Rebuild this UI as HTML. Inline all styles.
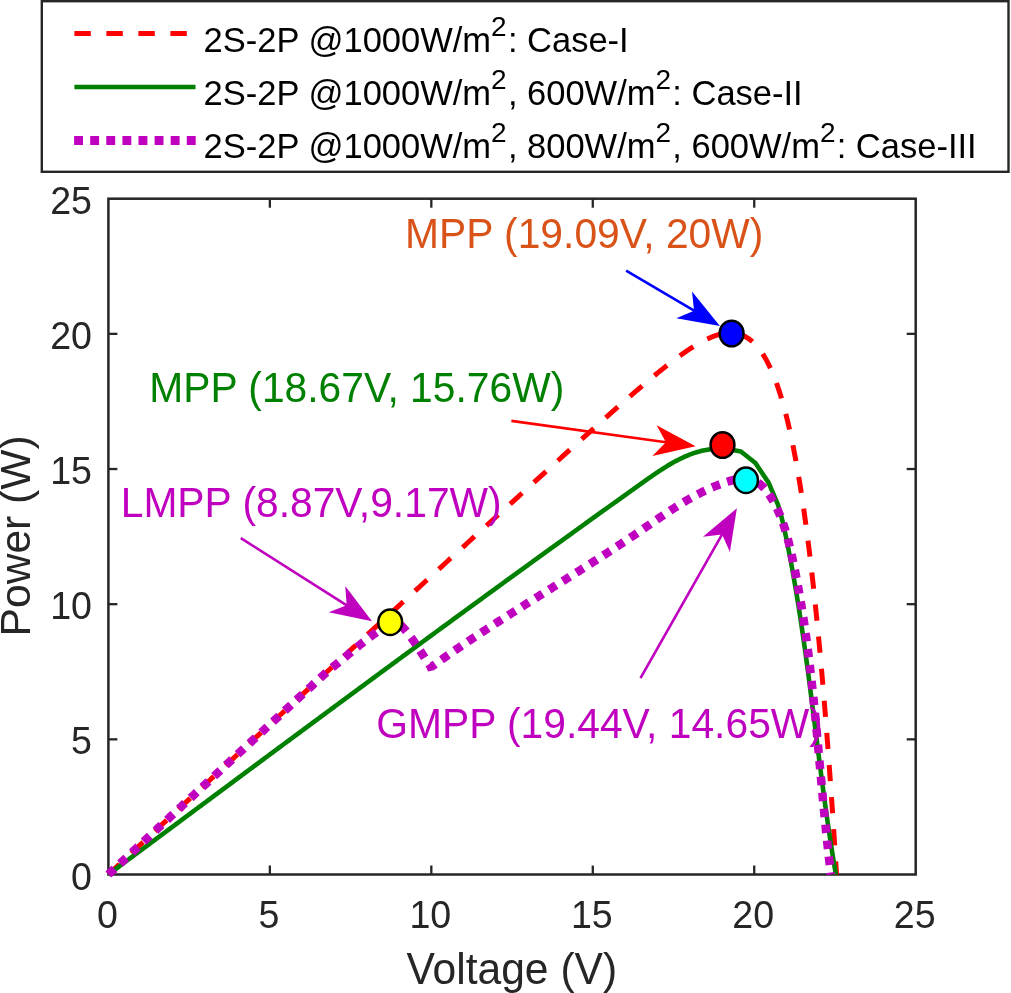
<!DOCTYPE html>
<html><head><meta charset="utf-8"><style>
html,body{margin:0;padding:0;background:#fff;width:1011px;height:993px;overflow:hidden}
svg{display:block;will-change:transform}
text{font-family:"Liberation Sans",sans-serif;white-space:pre}
</style></head><body>
<svg width="1011" height="993" viewBox="0 0 1011 993">
<rect width="1011" height="993" fill="#fff"/>
<rect x="108.4" y="198.7" width="807.30" height="675.80" fill="#fff" stroke="#262626" stroke-width="2.5"/>
<line x1="269.86" y1="874.5" x2="269.86" y2="865.5" stroke="#262626" stroke-width="2.3"/>
<line x1="269.86" y1="198.7" x2="269.86" y2="207.7" stroke="#262626" stroke-width="2.3"/>
<line x1="108.4" y1="739.34" x2="117.4" y2="739.34" stroke="#262626" stroke-width="2.3"/>
<line x1="915.7" y1="739.34" x2="906.7" y2="739.34" stroke="#262626" stroke-width="2.3"/>
<line x1="431.32" y1="874.5" x2="431.32" y2="865.5" stroke="#262626" stroke-width="2.3"/>
<line x1="431.32" y1="198.7" x2="431.32" y2="207.7" stroke="#262626" stroke-width="2.3"/>
<line x1="108.4" y1="604.18" x2="117.4" y2="604.18" stroke="#262626" stroke-width="2.3"/>
<line x1="915.7" y1="604.18" x2="906.7" y2="604.18" stroke="#262626" stroke-width="2.3"/>
<line x1="592.78" y1="874.5" x2="592.78" y2="865.5" stroke="#262626" stroke-width="2.3"/>
<line x1="592.78" y1="198.7" x2="592.78" y2="207.7" stroke="#262626" stroke-width="2.3"/>
<line x1="108.4" y1="469.02" x2="117.4" y2="469.02" stroke="#262626" stroke-width="2.3"/>
<line x1="915.7" y1="469.02" x2="906.7" y2="469.02" stroke="#262626" stroke-width="2.3"/>
<line x1="754.24" y1="874.5" x2="754.24" y2="865.5" stroke="#262626" stroke-width="2.3"/>
<line x1="754.24" y1="198.7" x2="754.24" y2="207.7" stroke="#262626" stroke-width="2.3"/>
<line x1="108.4" y1="333.86" x2="117.4" y2="333.86" stroke="#262626" stroke-width="2.3"/>
<line x1="915.7" y1="333.86" x2="906.7" y2="333.86" stroke="#262626" stroke-width="2.3"/>
<text transform="translate(107.40 928.00) scale(1 1.055)" font-size="37.6" fill="#262626" text-anchor="middle">0</text>
<text transform="translate(92.00 889.50) scale(1 1.055)" font-size="37.6" fill="#262626" text-anchor="end">0</text>
<text transform="translate(268.86 928.00) scale(1 1.055)" font-size="37.6" fill="#262626" text-anchor="middle">5</text>
<text transform="translate(92.00 754.34) scale(1 1.055)" font-size="37.6" fill="#262626" text-anchor="end">5</text>
<text transform="translate(430.32 928.00) scale(1 1.055)" font-size="37.6" fill="#262626" text-anchor="middle">10</text>
<text transform="translate(92.00 619.18) scale(1 1.055)" font-size="37.6" fill="#262626" text-anchor="end">10</text>
<text transform="translate(591.78 928.00) scale(1 1.055)" font-size="37.6" fill="#262626" text-anchor="middle">15</text>
<text transform="translate(92.00 484.02) scale(1 1.055)" font-size="37.6" fill="#262626" text-anchor="end">15</text>
<text transform="translate(753.24 928.00) scale(1 1.055)" font-size="37.6" fill="#262626" text-anchor="middle">20</text>
<text transform="translate(92.00 348.86) scale(1 1.055)" font-size="37.6" fill="#262626" text-anchor="end">20</text>
<text transform="translate(914.70 928.00) scale(1 1.055)" font-size="37.6" fill="#262626" text-anchor="middle">25</text>
<text transform="translate(92.00 213.70) scale(1 1.055)" font-size="37.6" fill="#262626" text-anchor="end">25</text>
<text transform="translate(511.80 984.00) scale(1 1.035)" font-size="42.6" fill="#262626" text-anchor="middle">Voltage (V)</text>
<text transform="translate(30.3 535.9) rotate(-90)" x="0" y="0" font-size="42.6" fill="#262626" text-anchor="middle">Power (W)</text>
<path d="M108.40 874.50 L109.50 873.48 L110.59 872.45 L111.69 871.43 L112.79 870.41 L113.88 869.38 L114.98 868.36 L116.08 867.34 L117.17 866.31 L118.27 865.29 L119.37 864.27 L120.46 863.24 L121.56 862.22 L122.66 861.20 L123.75 860.17 L124.85 859.15 L125.95 858.13 L127.05 857.11 L128.14 856.08 L129.24 855.06 L130.34 854.04 L131.43 853.01 L132.53 851.99 L133.63 850.97 L134.73 849.95 L135.82 848.92 L136.92 847.90 L138.02 846.88 L139.12 845.86 L140.21 844.83 L141.31 843.81 L142.41 842.79 L143.51 841.77 L144.60 840.74 L145.70 839.72 L146.80 838.70 L147.90 837.68 L148.99 836.65 L150.09 835.63 L151.19 834.61 L152.29 833.59 L153.39 832.57 L154.48 831.54 L155.58 830.52 L156.68 829.50 L157.78 828.48 L158.88 827.46 L159.97 826.43 L161.07 825.41 L162.17 824.39 L163.27 823.37 L164.37 822.35 L165.46 821.32 L166.56 820.30 L167.66 819.28 L168.76 818.26 L169.86 817.24 L170.96 816.22 L172.06 815.20 L173.15 814.17 L174.25 813.15 L175.35 812.13 L176.45 811.11 L177.55 810.09 L178.65 809.07 L179.75 808.05 L180.84 807.03 L181.94 806.00 L183.04 804.98 L184.14 803.96 L185.24 802.94 L186.34 801.92 L187.44 800.90 L188.54 799.88 L189.63 798.86 L190.73 797.84 L191.83 796.82 L192.93 795.79 L194.03 794.77 L195.13 793.75 L196.23 792.73 L197.33 791.71 L198.43 790.69 L199.53 789.67 L200.63 788.65 L201.73 787.63 L202.83 786.61 L203.92 785.59 L205.02 784.57 L206.12 783.55 L207.22 782.53 L208.32 781.51 L209.42 780.49 L210.52 779.47 L211.62 778.45 L212.72 777.43 L213.82 776.41 L214.92 775.39 L216.02 774.37 L217.12 773.35 L218.22 772.33 L219.32 771.31 L220.42 770.29 L221.52 769.27 L222.62 768.25 L223.72 767.23 L224.82 766.21 L225.92 765.19 L227.02 764.17 L228.12 763.15 L229.22 762.13 L230.32 761.11 L231.42 760.09 L232.52 759.07 L233.62 758.05 L234.72 757.03 L235.82 756.01 L236.92 754.99 L238.02 753.97 L239.12 752.95 L240.23 751.94 L241.33 750.92 L242.43 749.90 L243.53 748.88 L244.63 747.86 L245.73 746.84 L246.83 745.82 L247.93 744.80 L249.03 743.78 L250.13 742.76 L251.23 741.75 L252.33 740.73 L253.43 739.71 L254.54 738.69 L255.64 737.67 L256.74 736.65 L257.84 735.63 L258.94 734.61 L260.04 733.60 L261.14 732.58 L262.24 731.56 L263.34 730.54 L264.45 729.52 L265.55 728.50 L266.65 727.49 L267.75 726.47 L268.85 725.45 L269.95 724.43 L271.05 723.41 L272.16 722.39 L273.26 721.38 L274.36 720.36 L275.46 719.34 L276.56 718.32 L277.66 717.30 L278.77 716.29 L279.87 715.27 L280.97 714.25 L282.07 713.23 L283.17 712.21 L284.27 711.20 L285.38 710.18 L286.48 709.16 L287.58 708.14 L288.68 707.13 L289.78 706.11 L290.89 705.09 L291.99 704.07 L293.09 703.06 L294.19 702.04 L295.30 701.02 L296.40 700.00 L297.50 698.99 L298.60 697.97 L299.70 696.95 L300.81 695.93 L301.91 694.92 L303.01 693.90 L304.11 692.88 L305.22 691.87 L306.32 690.85 L307.42 689.83 L308.52 688.82 L309.63 687.80 L310.73 686.78 L311.83 685.76 L312.94 684.75 L314.04 683.73 L315.14 682.71 L316.24 681.70 L317.35 680.68 L318.45 679.66 L319.55 678.65 L320.66 677.63 L321.76 676.61 L322.86 675.60 L323.97 674.58 L325.07 673.57 L326.17 672.55 L327.27 671.53 L328.38 670.52 L329.48 669.50 L330.58 668.48 L331.69 667.47 L332.79 666.45 L333.89 665.44 L335.00 664.42 L336.10 663.40 L337.21 662.39 L338.31 661.37 L339.41 660.36 L340.52 659.34 L341.62 658.32 L342.72 657.31 L343.83 656.29 L344.93 655.28 L346.03 654.26 L347.14 653.24 L348.24 652.23 L349.35 651.21 L350.45 650.20 L351.55 649.18 L352.66 648.17 L353.76 647.15 L354.87 646.14 L355.97 645.12 L357.07 644.11 L358.18 643.09 L359.28 642.08 L360.39 641.06 L361.49 640.04 L362.60 639.03 L363.70 638.01 L364.80 637.00 L365.91 635.98 L367.01 634.97 L368.12 633.95 L369.22 632.94 L370.33 631.92 L371.43 630.91 L372.54 629.89 L373.64 628.88 L374.74 627.87 L375.85 626.85 L376.95 625.84 L378.06 624.82 L379.16 623.81 L380.27 622.79 L381.37 621.78 L382.48 620.76 L383.58 619.75 L384.69 618.73 L385.79 617.72 L386.90 616.71 L388.00 615.69 L389.11 614.68 L390.21 613.66 L391.32 612.65 L392.42 611.63 L393.53 610.62 L394.63 609.61 L395.74 608.59 L396.85 607.58 L397.95 606.56 L399.06 605.55 L400.16 604.54 L401.27 603.52 L402.37 602.51 L403.48 601.50 L404.58 600.48 L405.69 599.47 L406.80 598.45 L407.90 597.44 L409.01 596.43 L410.11 595.41 L411.22 594.40 L412.32 593.39 L413.43 592.37 L414.54 591.36 L415.64 590.35 L416.75 589.33 L417.85 588.32 L418.96 587.31 L420.07 586.29 L421.17 585.28 L422.28 584.27 L423.38 583.25 L424.49 582.24 L425.60 581.23 L426.70 580.21 L427.81 579.20 L428.92 578.19 L430.02 577.18 L431.13 576.16 L432.24 575.15 L433.34 574.14 L434.45 573.13 L435.55 572.11 L436.66 571.10 L437.77 570.09 L438.87 569.07 L439.98 568.06 L441.09 567.05 L442.20 566.04 L443.30 565.02 L444.41 564.01 L445.52 563.00 L446.62 561.99 L447.73 560.98 L448.84 559.96 L449.94 558.95 L451.05 557.94 L452.16 556.93 L453.26 555.91 L454.37 554.90 L455.48 553.89 L456.59 552.88 L457.69 551.87 L458.80 550.86 L459.91 549.84 L461.02 548.83 L462.12 547.82 L463.23 546.81 L464.34 545.80 L465.45 544.79 L466.55 543.77 L467.66 542.76 L468.77 541.75 L469.88 540.74 L470.98 539.73 L472.09 538.72 L473.20 537.71 L474.31 536.69 L475.42 535.68 L476.52 534.67 L477.63 533.66 L478.74 532.65 L479.85 531.64 L480.96 530.63 L482.06 529.62 L483.17 528.61 L484.28 527.59 L485.39 526.58 L486.50 525.57 L487.60 524.56 L488.71 523.55 L489.82 522.54 L490.93 521.53 L492.04 520.52 L493.15 519.51 L494.26 518.50 L495.36 517.49 L496.47 516.48 L497.58 515.47 L498.69 514.46 L499.80 513.45 L500.91 512.44 L502.02 511.43 L503.13 510.42 L504.23 509.41 L505.34 508.40 L506.45 507.39 L507.56 506.38 L508.67 505.37 L509.78 504.36 L510.89 503.35 L512.00 502.34 L513.11 501.33 L514.22 500.32 L515.33 499.31 L516.44 498.30 L517.55 497.29 L518.66 496.28 L519.77 495.27 L520.88 494.26 L521.99 493.25 L523.09 492.24 L524.20 491.23 L525.31 490.23 L526.42 489.22 L527.53 488.21 L528.65 487.20 L529.76 486.19 L530.87 485.18 L531.98 484.17 L533.09 483.16 L534.20 482.16 L535.31 481.15 L536.42 480.14 L537.53 479.13 L538.64 478.12 L539.75 477.12 L540.86 476.11 L541.97 475.10 L543.08 474.09 L544.19 473.08 L545.30 472.08 L546.42 471.07 L547.53 470.06 L548.64 469.05 L549.75 468.05 L550.86 467.04 L551.97 466.03 L553.09 465.03 L554.20 464.02 L555.31 463.01 L556.42 462.01 L557.53 461.00 L558.65 459.99 L559.76 458.99 L560.87 457.98 L561.98 456.97 L563.10 455.97 L564.21 454.96 L565.32 453.96 L566.43 452.95 L567.55 451.95 L568.66 450.94 L569.77 449.94 L570.89 448.93 L572.00 447.93 L573.12 446.92 L574.23 445.92 L575.34 444.91 L576.46 443.91 L577.57 442.90 L578.69 441.90 L579.80 440.90 L580.92 439.89 L582.03 438.89 L583.15 437.89 L584.26 436.88 L585.38 435.88 L586.49 434.88 L587.61 433.88 L588.73 432.88 L589.84 431.87 L590.96 430.87 L592.08 429.87 L593.20 428.87 L594.31 427.87 L595.43 426.87 L596.55 425.87 L597.67 424.87 L598.79 423.87 L599.91 422.87 L601.02 421.87 L602.14 420.88 L603.26 419.88 L604.38 418.88 L605.50 417.88 L606.63 416.89 L607.75 415.89 L608.87 414.89 L609.99 413.90 L611.11 412.90 L612.24 411.91 L613.36 410.92 L614.48 409.92 L615.61 408.93 L616.73 407.94 L617.86 406.95 L618.99 405.96 L620.11 404.96 L621.24 403.97 L622.37 402.99 L623.49 402.00 L624.62 401.01 L625.75 400.02 L626.88 399.04 L628.01 398.05 L629.15 397.07 L630.28 396.08 L631.41 395.10 L632.55 394.12 L633.68 393.14 L634.82 392.16 L635.95 391.18 L637.09 390.20 L638.23 389.23 L639.37 388.25 L640.51 387.28 L641.65 386.30 L642.79 385.33 L643.94 384.36 L645.08 383.39 L646.23 382.43 L647.38 381.46 L648.53 380.50 L649.68 379.53 L650.83 378.57 L651.98 377.61 L653.14 376.66 L654.30 375.70 L655.45 374.75 L656.61 373.80 L657.78 372.85 L658.94 371.91 L660.11 370.96 L661.28 370.02 L662.45 369.08 L663.62 368.15 L664.79 367.22 L665.97 366.29 L667.15 365.36 L668.33 364.44 L669.52 363.52 L670.71 362.60 L671.90 361.69 L673.09 360.78 L674.29 359.88 L675.49 358.98 L676.70 358.09 L677.91 357.20 L679.12 356.32 L680.33 355.44 L681.55 354.57 L682.78 353.70 L684.01 352.84 L685.24 351.99 L686.48 351.14 L687.72 350.30 L688.97 349.47 L690.23 348.65 L691.49 347.84 L692.76 347.03 L694.03 346.24 L695.31 345.46 L696.60 344.69 L697.89 343.93 L699.19 343.19 L700.50 342.45 L701.82 341.74 L703.15 341.04 L704.48 340.35 L705.82 339.69 L707.18 339.04 L708.54 338.41 L709.91 337.81 L711.30 337.23 L712.69 336.68 L714.10 336.15 L715.51 335.66 L716.94 335.20 L718.38 334.77 L719.83 334.38 L721.29 334.03 L722.75 333.72 L724.23 333.46 L725.72 333.26 L727.21 333.10 L728.70 333.00 L730.20 332.96 L731.70 332.99 L733.20 333.08 L734.69 333.24 L736.17 333.47 L737.64 333.77 L739.10 334.14 L740.53 334.58 L741.94 335.10 L743.32 335.68 L744.68 336.32 L746.00 337.03 L747.29 337.80 L748.54 338.62 L749.76 339.49 L750.95 340.41 L752.10 341.37 L753.22 342.37 L754.30 343.41 L755.35 344.48 L756.37 345.58 L757.35 346.71 L758.31 347.87 L759.24 349.04 L760.15 350.24 L761.02 351.46 L761.87 352.69 L762.70 353.94 L763.51 355.21 L764.29 356.49 L765.06 357.78 L765.80 359.08 L766.53 360.39 L767.24 361.71 L767.93 363.04 L768.61 364.38 L769.27 365.73 L769.91 367.08 L770.55 368.44 L771.16 369.81 L771.77 371.18 L772.36 372.56 L772.94 373.94 L773.51 375.33 L774.07 376.72 L774.62 378.12 L775.16 379.52 L775.69 380.92 L776.21 382.33 L776.72 383.74 L777.22 385.15 L777.71 386.57 L778.19 387.99 L778.67 389.41 L779.14 390.84 L779.60 392.27 L780.06 393.69 L780.50 395.13 L780.94 396.56 L781.38 398.00 L781.81 399.43 L782.23 400.87 L782.65 402.31 L783.06 403.76 L783.46 405.20 L783.86 406.65 L784.26 408.09 L784.65 409.54 L785.03 410.99 L785.41 412.44 L785.79 413.89 L786.16 415.35 L786.52 416.80 L786.89 418.26 L787.24 419.72 L787.60 421.17 L787.95 422.63 L788.29 424.09 L788.63 425.55 L788.97 427.01 L789.31 428.48 L789.64 429.94 L789.96 431.40 L790.29 432.87 L790.61 434.33 L790.93 435.80 L791.24 437.26 L791.55 438.73 L791.86 440.20 L792.17 441.67 L792.47 443.14 L792.77 444.61 L793.06 446.08 L793.36 447.55 L793.65 449.02 L793.94 450.49 L794.23 451.97 L794.51 453.44 L794.79 454.91 L795.07 456.39 L795.34 457.86 L795.62 459.33 L795.89 460.81 L796.16 462.29 L796.43 463.76 L796.69 465.24 L796.96 466.71 L797.22 468.19 L797.47 469.67 L797.73 471.15 L797.99 472.63 L798.24 474.10 L798.49 475.58 L798.74 477.06 L798.99 478.54 L799.23 480.02 L799.48 481.50 L799.72 482.98 L799.96 484.46 L800.20 485.94 L800.43 487.42 L800.67 488.91 L800.90 490.39 L801.13 491.87 L801.36 493.35 L801.59 494.83 L801.82 496.32 L802.04 497.80 L802.27 499.28 L802.49 500.77 L802.71 502.25 L802.93 503.73 L803.15 505.22 L803.37 506.70 L803.58 508.19 L803.80 509.67 L804.01 511.16 L804.22 512.64 L804.43 514.13 L804.64 515.61 L804.85 517.10 L805.05 518.58 L805.26 520.07 L805.46 521.55 L805.67 523.04 L805.87 524.53 L806.07 526.01 L806.27 527.50 L806.47 528.99 L806.66 530.47 L806.86 531.96 L807.06 533.45 L807.25 534.94 L807.44 536.42 L807.63 537.91 L807.83 539.40 L808.02 540.89 L808.20 542.37 L808.39 543.86 L808.58 545.35 L808.76 546.84 L808.95 548.33 L809.13 549.82 L809.32 551.31 L809.50 552.79 L809.68 554.28 L809.86 555.77 L810.04 557.26 L810.22 558.75 L810.40 560.24 L810.57 561.73 L810.75 563.22 L810.92 564.71 L811.10 566.20 L811.27 567.69 L811.44 569.18 L811.62 570.67 L811.79 572.16 L811.96 573.65 L812.13 575.14 L812.29 576.63 L812.46 578.12 L812.63 579.61 L812.80 581.10 L812.96 582.59 L813.13 584.09 L813.29 585.58 L813.45 587.07 L813.62 588.56 L813.78 590.05 L813.94 591.54 L814.10 593.03 L814.26 594.52 L814.42 596.02 L814.58 597.51 L814.73 599.00 L814.89 600.49 L815.05 601.98 L815.20 603.47 L815.36 604.97 L815.51 606.46 L815.67 607.95 L815.82 609.44 L815.97 610.93 L816.13 612.43 L816.28 613.92 L816.43 615.41 L816.58 616.90 L816.73 618.40 L816.88 619.89 L817.03 621.38 L817.17 622.87 L817.32 624.37 L817.47 625.86 L817.61 627.35 L817.76 628.85 L817.90 630.34 L818.05 631.83 L818.19 633.32 L818.34 634.82 L818.48 636.31 L818.62 637.80 L818.76 639.30 L818.91 640.79 L819.05 642.28 L819.19 643.78 L819.33 645.27 L819.47 646.76 L819.60 648.26 L819.74 649.75 L819.88 651.25 L820.02 652.74 L820.16 654.23 L820.29 655.73 L820.43 657.22 L820.56 658.71 L820.70 660.21 L820.83 661.70 L820.97 663.20 L821.10 664.69 L821.23 666.18 L821.37 667.68 L821.50 669.17 L821.63 670.67 L821.76 672.16 L821.89 673.66 L822.02 675.15 L822.15 676.64 L822.28 678.14 L822.41 679.63 L822.54 681.13 L822.67 682.62 L822.80 684.12 L822.93 685.61 L823.05 687.11 L823.18 688.60 L823.31 690.09 L823.43 691.59 L823.56 693.08 L823.68 694.58 L823.81 696.07 L823.93 697.57 L824.06 699.06 L824.18 700.56 L824.31 702.05 L824.43 703.55 L824.55 705.04 L824.67 706.54 L824.80 708.03 L824.92 709.53 L825.04 711.02 L825.16 712.52 L825.28 714.01 L825.40 715.51 L825.52 717.00 L825.64 718.50 L825.76 719.99 L825.88 721.49 L825.99 722.98 L826.11 724.48 L826.23 725.98 L826.35 727.47 L826.47 728.97 L826.58 730.46 L826.70 731.96 L826.81 733.45 L826.93 734.95 L827.05 736.44 L827.16 737.94 L827.28 739.44 L827.39 740.93 L827.50 742.43 L827.62 743.92 L827.73 745.42 L827.84 746.91 L827.96 748.41 L828.07 749.90 L828.18 751.40 L828.29 752.90 L828.41 754.39 L828.52 755.89 L828.63 757.38 L828.74 758.88 L828.85 760.38 L828.96 761.87 L829.07 763.37 L829.18 764.86 L829.29 766.36 L829.40 767.86 L829.51 769.35 L829.62 770.85 L829.73 772.34 L829.83 773.84 L829.94 775.34 L830.05 776.83 L830.16 778.33 L830.26 779.82 L830.37 781.32 L830.48 782.82 L830.58 784.31 L830.69 785.81 L830.79 787.31 L830.90 788.80 L831.00 790.30 L831.11 791.79 L831.21 793.29 L831.32 794.79 L831.42 796.28 L831.53 797.78 L831.63 799.28 L831.73 800.77 L831.84 802.27 L831.94 803.77 L832.04 805.26 L832.14 806.76 L832.25 808.26 L832.35 809.75 L832.45 811.25 L832.55 812.75 L832.65 814.24 L832.75 815.74 L832.86 817.23 L832.96 818.73 L833.06 820.23 L833.16 821.72 L833.26 823.22 L833.36 824.72 L833.45 826.21 L833.55 827.71 L833.65 829.21 L833.75 830.71 L833.85 832.20 L833.95 833.70 L834.05 835.20 L834.14 836.69 L834.24 838.19 L834.34 839.69 L834.44 841.18 L834.53 842.68 L834.63 844.18 L834.73 845.67 L834.82 847.17 L834.92 848.67 L835.02 850.16 L835.11 851.66 L835.21 853.16 L835.30 854.65 L835.40 856.15 L835.49 857.65 L835.59 859.15 L835.68 860.64 L835.78 862.14 L835.87 863.64 L835.97 865.13 L836.06 866.63 L836.15 868.13 L836.25 869.63 L836.34 871.12 L836.43 872.62 L836.53 874.12 L836.55 874.50" fill="none" stroke="#ff0000" stroke-width="5" stroke-dasharray="16.2 16" stroke-dashoffset="0.9" stroke-linejoin="round"/>
<path d="M108.06 874.71 L109.26 873.81 L110.46 872.92 L111.67 872.02 L112.87 871.13 L114.07 870.23 L115.28 869.34 L116.48 868.44 L117.69 867.55 L118.89 866.65 L120.09 865.76 L121.30 864.86 L122.50 863.97 L123.70 863.07 L124.91 862.18 L126.11 861.28 L127.31 860.39 L128.52 859.49 L129.72 858.60 L130.93 857.70 L132.13 856.81 L133.33 855.91 L134.54 855.02 L135.74 854.12 L136.94 853.23 L138.15 852.33 L139.35 851.44 L140.56 850.54 L141.76 849.65 L142.96 848.75 L144.17 847.86 L145.37 846.96 L146.57 846.07 L147.78 845.17 L148.98 844.28 L150.18 843.38 L151.39 842.49 L152.59 841.59 L153.80 840.70 L155.00 839.80 L156.20 838.91 L157.41 838.01 L158.61 837.12 L159.81 836.22 L161.02 835.33 L162.22 834.43 L163.43 833.54 L164.63 832.64 L165.83 831.75 L167.04 830.85 L168.24 829.96 L169.45 829.06 L170.65 828.17 L171.85 827.27 L173.06 826.38 L174.26 825.48 L175.46 824.59 L176.67 823.69 L177.87 822.80 L179.08 821.90 L180.28 821.01 L181.48 820.11 L182.69 819.22 L183.89 818.32 L185.10 817.43 L186.30 816.53 L187.50 815.64 L188.71 814.75 L189.91 813.85 L191.11 812.96 L192.32 812.06 L193.52 811.17 L194.73 810.27 L195.93 809.38 L197.13 808.48 L198.34 807.59 L199.54 806.69 L200.75 805.80 L201.95 804.90 L203.16 804.01 L204.36 803.12 L205.56 802.22 L206.77 801.33 L207.97 800.43 L209.18 799.54 L210.38 798.64 L211.58 797.75 L212.79 796.85 L213.99 795.96 L215.20 795.07 L216.40 794.17 L217.61 793.28 L218.81 792.38 L220.01 791.49 L221.22 790.59 L222.42 789.70 L223.63 788.81 L224.83 787.91 L226.04 787.02 L227.24 786.12 L228.44 785.23 L229.65 784.33 L230.85 783.44 L232.06 782.55 L233.26 781.65 L234.47 780.76 L235.67 779.86 L236.88 778.97 L238.08 778.08 L239.28 777.18 L240.49 776.29 L241.69 775.40 L242.90 774.50 L244.10 773.61 L245.31 772.71 L246.51 771.82 L247.72 770.93 L248.92 770.03 L250.13 769.14 L251.33 768.25 L252.54 767.35 L253.74 766.46 L254.95 765.56 L256.15 764.67 L257.35 763.78 L258.56 762.88 L259.76 761.99 L260.97 761.10 L262.17 760.20 L263.38 759.31 L264.58 758.42 L265.79 757.52 L266.99 756.63 L268.20 755.74 L269.40 754.84 L270.61 753.95 L271.81 753.06 L273.02 752.16 L274.22 751.27 L275.43 750.38 L276.64 749.49 L277.84 748.59 L279.05 747.70 L280.25 746.81 L281.46 745.91 L282.66 745.02 L283.87 744.13 L285.07 743.24 L286.28 742.34 L287.48 741.45 L288.69 740.56 L289.89 739.66 L291.10 738.77 L292.31 737.88 L293.51 736.99 L294.72 736.09 L295.92 735.20 L297.13 734.31 L298.33 733.42 L299.54 732.53 L300.75 731.63 L301.95 730.74 L303.16 729.85 L304.36 728.96 L305.57 728.06 L306.77 727.17 L307.98 726.28 L309.19 725.39 L310.39 724.50 L311.60 723.60 L312.80 722.71 L314.01 721.82 L315.22 720.93 L316.42 720.04 L317.63 719.15 L318.84 718.25 L320.04 717.36 L321.25 716.47 L322.45 715.58 L323.66 714.69 L324.87 713.80 L326.07 712.90 L327.28 712.01 L328.49 711.12 L329.69 710.23 L330.90 709.34 L332.11 708.45 L333.31 707.56 L334.52 706.67 L335.73 705.77 L336.93 704.88 L338.14 703.99 L339.35 703.10 L340.55 702.21 L341.76 701.32 L342.97 700.43 L344.17 699.54 L345.38 698.65 L346.59 697.76 L347.79 696.87 L349.00 695.98 L350.21 695.09 L351.42 694.20 L352.62 693.31 L353.83 692.42 L355.04 691.53 L356.24 690.63 L357.45 689.74 L358.66 688.85 L359.87 687.96 L361.07 687.07 L362.28 686.18 L363.49 685.29 L364.70 684.41 L365.90 683.52 L367.11 682.63 L368.32 681.74 L369.53 680.85 L370.74 679.96 L371.94 679.07 L373.15 678.18 L374.36 677.29 L375.57 676.40 L376.77 675.51 L377.98 674.62 L379.19 673.73 L380.40 672.84 L381.61 671.95 L382.82 671.06 L384.02 670.18 L385.23 669.29 L386.44 668.40 L387.65 667.51 L388.86 666.62 L390.07 665.73 L391.27 664.84 L392.48 663.95 L393.69 663.07 L394.90 662.18 L396.11 661.29 L397.32 660.40 L398.53 659.51 L399.73 658.62 L400.94 657.74 L402.15 656.85 L403.36 655.96 L404.57 655.07 L405.78 654.19 L406.99 653.30 L408.20 652.41 L409.41 651.52 L410.62 650.63 L411.82 649.75 L413.03 648.86 L414.24 647.97 L415.45 647.08 L416.66 646.20 L417.87 645.31 L419.08 644.42 L420.29 643.54 L421.50 642.65 L422.71 641.76 L423.92 640.88 L425.13 639.99 L426.34 639.10 L427.55 638.21 L428.76 637.33 L429.97 636.44 L431.18 635.56 L432.39 634.67 L433.60 633.78 L434.81 632.90 L436.02 632.01 L437.23 631.12 L438.44 630.24 L439.65 629.35 L440.86 628.47 L442.07 627.58 L443.28 626.69 L444.49 625.81 L445.70 624.92 L446.91 624.04 L448.13 623.15 L449.34 622.27 L450.55 621.38 L451.76 620.50 L452.97 619.61 L454.18 618.73 L455.39 617.84 L456.60 616.96 L457.81 616.07 L459.02 615.19 L460.24 614.30 L461.45 613.42 L462.66 612.53 L463.87 611.65 L465.08 610.76 L466.29 609.88 L467.50 608.99 L468.72 608.11 L469.93 607.23 L471.14 606.34 L472.35 605.46 L473.56 604.57 L474.78 603.69 L475.99 602.81 L477.20 601.92 L478.41 601.04 L479.62 600.16 L480.84 599.27 L482.05 598.39 L483.26 597.51 L484.47 596.62 L485.69 595.74 L486.90 594.86 L488.11 593.97 L489.32 593.09 L490.54 592.21 L491.75 591.32 L492.96 590.44 L494.17 589.56 L495.39 588.68 L496.60 587.79 L497.81 586.91 L499.03 586.03 L500.24 585.15 L501.45 584.27 L502.67 583.38 L503.88 582.50 L505.09 581.62 L506.31 580.74 L507.52 579.86 L508.73 578.98 L509.95 578.09 L511.16 577.21 L512.38 576.33 L513.59 575.45 L514.80 574.57 L516.02 573.69 L517.23 572.81 L518.45 571.93 L519.66 571.05 L520.87 570.16 L522.09 569.28 L523.30 568.40 L524.52 567.52 L525.73 566.64 L526.95 565.76 L528.16 564.88 L529.37 564.00 L530.59 563.12 L531.80 562.24 L533.02 561.36 L534.23 560.48 L535.45 559.60 L536.66 558.72 L537.88 557.84 L539.09 556.96 L540.31 556.09 L541.53 555.21 L542.74 554.33 L543.96 553.45 L545.17 552.57 L546.39 551.69 L547.60 550.81 L548.82 549.93 L550.03 549.05 L551.25 548.18 L552.47 547.30 L553.68 546.42 L554.90 545.54 L556.11 544.66 L557.33 543.79 L558.55 542.91 L559.76 542.03 L560.98 541.15 L562.20 540.27 L563.41 539.40 L564.63 538.52 L565.85 537.64 L567.06 536.77 L568.28 535.89 L569.50 535.01 L570.71 534.13 L571.93 533.26 L573.15 532.38 L574.36 531.50 L575.58 530.63 L576.80 529.75 L578.02 528.87 L579.23 528.00 L580.45 527.12 L581.67 526.25 L582.89 525.37 L584.10 524.49 L585.32 523.62 L586.54 522.74 L587.76 521.87 L588.98 520.99 L590.19 520.12 L591.41 519.24 L592.63 518.37 L593.85 517.49 L595.07 516.62 L596.29 515.74 L597.50 514.87 L598.72 513.99 L599.94 513.12 L601.16 512.24 L602.38 511.37 L603.60 510.49 L604.82 509.62 L606.04 508.75 L607.26 507.87 L608.47 507.00 L609.69 506.12 L610.91 505.25 L612.13 504.38 L613.35 503.50 L614.57 502.63 L615.79 501.76 L617.01 500.88 L618.23 500.01 L619.45 499.14 L620.67 498.27 L621.89 497.39 L623.11 496.52 L624.33 495.65 L625.55 494.78 L626.77 493.90 L627.99 493.03 L629.21 492.16 L630.43 491.29 L631.65 490.42 L632.87 489.54 L634.10 488.67 L635.32 487.80 L636.54 486.93 L637.76 486.06 L638.98 485.19 L640.20 484.32 L641.42 483.45 L642.64 482.58 L643.87 481.71 L645.09 480.84 L646.31 479.97 L647.54 479.10 L648.76 478.24 L649.99 477.38 L651.22 476.52 L652.46 475.67 L653.69 474.82 L654.93 473.97 L656.17 473.13 L657.42 472.29 L658.66 471.46 L659.92 470.63 L661.17 469.81 L662.43 469.00 L663.70 468.20 L664.97 467.40 L666.24 466.61 L667.52 465.83 L668.81 465.05 L670.10 464.29 L671.40 463.54 L672.70 462.80 L674.02 462.07 L675.33 461.35 L676.66 460.65 L677.99 459.96 L679.32 459.28 L680.67 458.61 L682.02 457.97 L683.38 457.33 L684.75 456.72 L686.13 456.12 L687.51 455.54 L688.90 454.97 L690.30 454.43 L691.70 453.90 L693.11 453.40 L694.54 452.92 L695.96 452.46 L697.40 452.02 L698.84 451.61 L700.29 451.22 L701.74 450.85 L703.20 450.51 L704.67 450.20 L706.14 449.91 L707.62 449.65 L709.10 449.42 L710.59 449.22 L712.08 449.04 L713.57 448.90 L715.07 448.78 L716.56 448.70 L718.06 448.64 L719.56 448.63 L721.06 448.64 L722.56 448.69 L724.06 448.78 L725.55 448.90 L727.04 449.07 L740.90 451.50 L755.40 463.00 L768.70 482.90 L777.86 504.38 L778.32 505.81 L778.76 507.24 L779.19 508.68 L779.61 510.12 L780.02 511.56 L780.42 513.01 L780.82 514.46 L781.20 515.91 L781.57 517.36 L781.94 518.81 L782.30 520.27 L782.65 521.73 L782.99 523.19 L783.33 524.65 L783.66 526.11 L783.99 527.58 L784.31 529.04 L784.63 530.51 L784.94 531.97 L785.25 533.44 L785.56 534.91 L785.87 536.38 L786.17 537.85 L786.47 539.32 L786.77 540.79 L787.07 542.26 L787.37 543.73 L787.66 545.20 L787.96 546.67 L788.25 548.14 L788.54 549.61 L788.83 551.08 L789.11 552.56 L789.40 554.03 L789.68 555.50 L789.96 556.98 L790.24 558.45 L790.52 559.92 L790.80 561.40 L791.07 562.87 L791.35 564.35 L791.62 565.82 L791.89 567.30 L792.16 568.77 L792.43 570.25 L792.70 571.72 L792.96 573.20 L793.22 574.68 L793.49 576.15 L793.75 577.63 L794.01 579.11 L794.26 580.59 L794.52 582.06 L794.78 583.54 L795.03 585.02 L795.28 586.50 L795.53 587.98 L795.78 589.46 L796.03 590.94 L796.28 592.42 L796.53 593.90 L796.77 595.38 L797.01 596.86 L797.26 598.34 L797.50 599.82 L797.74 601.30 L797.98 602.78 L798.21 604.26 L798.45 605.74 L798.69 607.22 L798.92 608.70 L799.15 610.18 L799.38 611.67 L799.62 613.15 L799.84 614.63 L800.07 616.11 L800.30 617.60 L800.53 619.08 L800.75 620.56 L800.98 622.05 L801.20 623.53 L801.42 625.01 L801.64 626.50 L801.86 627.98 L802.08 629.46 L802.30 630.95 L802.52 632.43 L802.74 633.92 L802.95 635.40 L803.17 636.88 L803.38 638.37 L803.60 639.85 L803.81 641.34 L804.02 642.82 L804.23 644.31 L804.44 645.79 L804.65 647.28 L804.86 648.76 L805.07 650.25 L805.27 651.74 L805.48 653.22 L805.68 654.71 L805.89 656.19 L806.09 657.68 L806.30 659.17 L806.50 660.65 L806.70 662.14 L806.90 663.62 L807.10 665.11 L807.30 666.60 L807.50 668.08 L807.70 669.57 L807.90 671.06 L808.10 672.55 L808.30 674.03 L808.49 675.52 L808.69 677.01 L808.88 678.49 L809.08 679.98 L809.27 681.47 L809.47 682.96 L809.66 684.44 L809.86 685.93 L810.05 687.42 L810.24 688.91 L810.44 690.39 L810.63 691.88 L810.82 693.37 L811.01 694.86 L811.20 696.34 L811.39 697.83 L811.58 699.32 L811.77 700.81 L811.96 702.30 L812.15 703.78 L812.34 705.27 L812.53 706.76 L812.72 708.25 L812.91 709.74 L813.10 711.22 L813.28 712.71 L813.47 714.20 L813.66 715.69 L813.85 717.18 L814.04 718.66 L814.22 720.15 L814.41 721.64 L814.60 723.13 L814.79 724.62 L814.97 726.11 L815.16 727.59 L815.35 729.08 L815.54 730.57 L815.72 732.06 L815.91 733.55 L816.10 735.03 L816.29 736.52 L816.47 738.01 L816.66 739.50 L816.85 740.99 L817.04 742.48 L817.23 743.96 L817.41 745.45 L817.60 746.94 L817.79 748.43 L817.98 749.92 L818.17 751.40 L818.36 752.89 L818.55 754.38 L818.74 755.87 L818.93 757.36 L819.12 758.84 L819.31 760.33 L819.50 761.82 L819.69 763.31 L819.88 764.80 L820.07 766.28 L820.26 767.77 L820.46 769.26 L820.65 770.75 L820.84 772.23 L821.03 773.72 L821.23 775.21 L821.42 776.70 L821.62 778.18 L821.81 779.67 L822.01 781.16 L822.20 782.64 L822.40 784.13 L822.60 785.62 L822.80 787.11 L822.99 788.59 L823.19 790.08 L823.39 791.57 L823.59 793.05 L823.79 794.54 L824.00 796.03 L824.20 797.51 L824.40 799.00 L824.60 800.48 L824.81 801.97 L825.01 803.46 L825.22 804.94 L825.42 806.43 L825.63 807.91 L825.84 809.40 L826.04 810.88 L826.25 812.37 L826.46 813.86 L826.67 815.34 L826.88 816.83 L827.10 818.31 L827.31 819.80 L827.52 821.28 L827.74 822.76 L827.95 824.25 L828.17 825.73 L828.39 827.22 L828.61 828.70 L828.82 830.19 L829.04 831.67 L829.27 833.15 L829.49 834.64 L829.71 836.12 L829.93 837.60 L830.16 839.09 L830.39 840.57 L830.61 842.05 L830.84 843.53 L831.07 845.02 L831.30 846.50 L831.53 847.98 L831.76 849.46 L832.00 850.94 L832.23 852.43 L832.47 853.91 L832.70 855.39 L832.94 856.87 L833.18 858.35 L833.42 859.83 L833.66 861.31 L833.91 862.79 L834.15 864.27 L834.40 865.75 L834.64 867.23 L834.89 868.71 L835.14 870.19 L835.39 871.67 L835.63 873.07 L835.83 874.50" fill="none" stroke="#008000" stroke-width="4.6" stroke-linejoin="round"/>
<path d="M108.40 874.50 L109.50 873.48 L110.59 872.45 L111.69 871.43 L112.79 870.41 L113.88 869.38 L114.98 868.36 L116.08 867.34 L117.17 866.31 L118.27 865.29 L119.37 864.27 L120.46 863.24 L121.56 862.22 L122.66 861.20 L123.75 860.17 L124.85 859.15 L125.95 858.13 L127.05 857.11 L128.14 856.08 L129.24 855.06 L130.34 854.04 L131.43 853.01 L132.53 851.99 L133.63 850.97 L134.73 849.95 L135.82 848.92 L136.92 847.90 L138.02 846.88 L139.12 845.86 L140.21 844.83 L141.31 843.81 L142.41 842.79 L143.51 841.77 L144.60 840.74 L145.70 839.72 L146.80 838.70 L147.90 837.68 L148.99 836.65 L150.09 835.63 L151.19 834.61 L152.29 833.59 L153.39 832.57 L154.48 831.54 L155.58 830.52 L156.68 829.50 L157.78 828.48 L158.88 827.46 L159.97 826.43 L161.07 825.41 L162.17 824.39 L163.27 823.37 L164.37 822.35 L165.46 821.32 L166.56 820.30 L167.66 819.28 L168.76 818.26 L169.86 817.24 L170.96 816.22 L172.06 815.20 L173.15 814.17 L174.25 813.15 L175.35 812.13 L176.45 811.11 L177.55 810.09 L178.65 809.07 L179.75 808.05 L180.84 807.03 L181.94 806.00 L183.04 804.98 L184.14 803.96 L185.24 802.94 L186.34 801.92 L187.44 800.90 L188.54 799.88 L189.63 798.86 L190.73 797.84 L191.83 796.82 L192.93 795.79 L194.03 794.77 L195.13 793.75 L196.23 792.73 L197.33 791.71 L198.43 790.69 L199.53 789.67 L200.63 788.65 L201.73 787.63 L202.83 786.61 L203.92 785.59 L205.02 784.57 L206.12 783.55 L207.22 782.53 L208.32 781.51 L209.42 780.49 L210.52 779.47 L211.62 778.45 L212.72 777.43 L213.82 776.41 L214.92 775.39 L216.02 774.37 L217.12 773.35 L218.22 772.33 L219.32 771.31 L220.42 770.29 L221.52 769.27 L222.62 768.25 L223.72 767.23 L224.82 766.21 L225.92 765.19 L227.02 764.17 L228.12 763.15 L229.22 762.13 L230.32 761.11 L231.42 760.09 L232.52 759.07 L233.62 758.05 L234.72 757.03 L235.82 756.01 L236.92 754.99 L238.02 753.97 L239.12 752.95 L240.23 751.94 L241.33 750.92 L242.43 749.90 L243.53 748.88 L244.63 747.86 L245.73 746.84 L246.83 745.82 L247.93 744.80 L249.03 743.78 L250.13 742.76 L251.23 741.75 L252.33 740.73 L253.43 739.71 L254.54 738.69 L255.64 737.67 L256.74 736.65 L257.84 735.63 L258.94 734.61 L260.04 733.60 L261.14 732.58 L262.24 731.56 L263.34 730.54 L264.45 729.52 L265.55 728.50 L266.65 727.49 L267.75 726.47 L268.85 725.45 L269.95 724.43 L271.05 723.41 L272.15 722.39 L273.26 721.38 L274.36 720.36 L275.46 719.34 L276.56 718.32 L277.66 717.30 L278.77 716.29 L279.87 715.27 L280.97 714.25 L282.07 713.23 L283.17 712.21 L284.27 711.20 L285.38 710.18 L286.48 709.16 L287.58 708.14 L288.68 707.13 L289.78 706.11 L290.89 705.09 L291.99 704.07 L293.09 703.06 L294.19 702.04 L295.30 701.02 L296.40 700.00 L297.50 698.99 L298.60 697.97 L299.70 696.95 L300.81 695.93 L301.91 694.92 L303.01 693.90 L304.11 692.88 L305.22 691.87 L306.32 690.85 L307.42 689.83 L308.52 688.82 L309.63 687.80 L310.73 686.78 L311.83 685.76 L312.94 684.75 L314.04 683.73 L315.14 682.71 L316.24 681.70 L317.35 680.68 L318.45 679.66 L319.55 678.65 L320.66 677.63 L321.76 676.61 L322.86 675.60 L323.97 674.58 L325.07 673.57 L326.17 672.55 L327.27 671.53 L328.38 670.52 L329.48 669.50 L330.73 668.72 L331.91 667.79 L333.09 666.87 L334.27 665.93 L335.44 665.00 L336.61 664.06 L337.77 663.11 L338.94 662.17 L340.10 661.22 L341.26 660.26 L342.42 659.31 L343.57 658.36 L344.73 657.40 L345.88 656.44 L347.04 655.48 L348.19 654.53 L349.34 653.57 L350.50 652.61 L351.65 651.65 L352.81 650.70 L353.97 649.74 L355.13 648.79 L356.29 647.84 L357.45 646.89 L358.61 645.94 L359.78 645.00 L360.95 644.06 L362.12 643.13 L363.30 642.20 L364.48 641.27 L365.66 640.35 L366.85 639.43 L368.04 638.52 L369.23 637.61 L370.43 636.71 L371.64 635.82 L372.85 634.93 L374.06 634.05 L375.28 633.18 L376.51 632.32 L377.74 631.46 L378.98 630.61 L380.22 629.77 L381.47 628.94 L382.72 628.11 L383.98 627.30 L385.25 626.50 L386.53 625.72 L387.83 624.97 L389.16 624.28 L390.53 623.67 L391.95 623.17 L393.41 622.84 L394.90 622.74" fill="none" stroke="#bf00bf" stroke-width="8.5" stroke-dasharray="8.4 7.65" stroke-linejoin="miter"/>
<path d="M394.90 622.74 L396.38 622.94 L397.80 623.43 L399.11 624.15 L400.33 625.02 L401.47 625.99 L402.55 627.04 L403.59 628.12 L404.59 629.24 L405.57 630.37 L406.54 631.52 L407.49 632.68 L408.42 633.85 L409.34 635.04 L410.25 636.23 L411.14 637.44 L412.02 638.65 L412.89 639.87 L413.75 641.10 L414.61 642.34 L415.45 643.58 L416.28 644.82 L417.11 646.07 L417.94 647.33 L418.76 648.58 L419.58 649.84 L420.39 651.10 L421.21 652.36 L422.02 653.62 L422.83 654.88 L423.65 656.14 L424.47 657.39 L425.29 658.65 L426.12 659.90 L426.95 661.15 L427.80 662.39 L428.65 663.62 L429.51 664.85 L430.38 666.07 L430.60 666.60 L430.60 666.60 L432.11 666.33 L433.33 665.46 L434.55 664.58 L435.77 663.71 L436.99 662.84 L438.21 661.97 L439.44 661.11 L440.66 660.24 L441.89 659.38 L443.12 658.52 L444.35 657.66 L445.58 656.80 L446.81 655.94 L448.04 655.08 L449.27 654.23 L450.51 653.38 L451.74 652.53 L452.98 651.68 L454.21 650.83 L455.45 649.98 L456.69 649.13 L457.93 648.29 L459.17 647.45 L460.41 646.61 L461.65 645.76 L462.90 644.93 L464.14 644.09 L465.39 643.25 L466.63 642.42 L467.88 641.58 L469.13 640.75 L470.37 639.92 L471.62 639.09 L472.87 638.26 L474.12 637.43 L475.38 636.60 L476.63 635.78 L477.88 634.95 L479.13 634.13 L480.39 633.30 L481.64 632.48 L482.90 631.66 L484.15 630.84 L485.41 630.02 L486.67 629.20 L487.93 628.39 L489.19 627.57 L490.44 626.76 L491.70 625.94 L492.96 625.13 L494.23 624.32 L495.49 623.50 L496.75 622.69 L498.01 621.88 L499.27 621.07 L500.54 620.27 L501.80 619.46 L503.07 618.65 L504.33 617.84 L505.60 617.04 L506.86 616.23 L508.13 615.43 L509.39 614.62 L510.66 613.82 L511.93 613.02 L513.19 612.22 L514.46 611.41 L515.73 610.61 L517.00 609.81 L518.27 609.01 L519.54 608.21 L520.81 607.41 L522.08 606.61 L523.35 605.82 L524.62 605.02 L525.89 604.22 L527.16 603.42 L528.43 602.62 L529.70 601.83 L530.97 601.03 L532.24 600.24 L533.51 599.44 L534.78 598.64 L536.05 597.85 L537.33 597.05 L538.60 596.26 L539.87 595.46 L541.14 594.67 L542.41 593.87 L543.69 593.08 L544.96 592.28 L546.23 591.49 L547.50 590.69 L548.77 589.90 L550.05 589.10 L551.32 588.31 L552.59 587.51 L553.86 586.72 L555.14 585.92 L556.41 585.13 L557.68 584.33 L558.95 583.54 L560.22 582.74 L561.49 581.95 L562.77 581.15 L564.04 580.36 L565.31 579.56 L566.58 578.76 L567.85 577.97 L569.12 577.17 L570.39 576.37 L571.66 575.57 L572.93 574.77 L574.20 573.98 L575.47 573.18 L576.74 572.38 L578.01 571.58 L579.28 570.78 L580.55 569.98 L581.81 569.18 L583.08 568.37 L584.35 567.57 L585.61 566.77 L586.88 565.96 L588.15 565.16 L589.41 564.35 L590.68 563.55 L591.94 562.74 L593.21 561.94 L594.47 561.13 L595.74 560.32 L597.00 559.51 L598.26 558.70 L599.52 557.89 L600.79 557.08 L602.05 556.27 L603.31 555.46 L604.57 554.64 L605.83 553.83 L607.09 553.01 L608.34 552.20 L609.60 551.38 L610.86 550.56 L612.12 549.74 L613.37 548.92 L614.63 548.10 L615.88 547.28 L617.14 546.45 L618.39 545.63 L619.64 544.80 L620.89 543.98 L622.14 543.15 L623.39 542.32 L624.64 541.49 L625.89 540.66 L627.14 539.83 L628.39 539.00 L629.64 538.16 L630.88 537.33 L632.13 536.49 L633.37 535.65 L634.61 534.81 L635.85 533.97 L637.10 533.13 L638.34 532.28 L639.58 531.44 L640.81 530.59 L642.05 529.75 L643.29 528.90 L644.53 528.05 L645.76 527.20 L647.00 526.35 L648.24 525.50 L649.47 524.65 L650.71 523.80 L651.94 522.95 L653.18 522.11 L654.42 521.26 L655.66 520.41 L656.90 519.57 L658.14 518.72 L659.38 517.88 L660.62 517.04 L661.86 516.20 L663.11 515.36 L664.36 514.53 L665.60 513.70 L666.85 512.87 L668.11 512.04 L669.36 511.22 L670.62 510.40 L671.88 509.59 L673.14 508.77 L674.40 507.97 L675.67 507.16 L676.94 506.36 L678.21 505.57 L679.48 504.78 L680.76 503.99 L682.04 503.21 L683.33 502.44 L684.62 501.67 L685.91 500.91 L687.20 500.15 L688.50 499.40 L689.81 498.66 L691.11 497.92 L692.42 497.19 L693.74 496.47 L695.06 495.76 L696.38 495.05 L697.71 494.35 L699.04 493.66 L700.38 492.98 L701.72 492.31 L703.06 491.65 L704.41 490.99 L705.77 490.35 L707.13 489.71 L708.49 489.09 L709.86 488.48 L711.23 487.87 L712.61 487.28 L713.99 486.70 L715.38 486.13 L716.77 485.57 L718.17 485.03 L719.57 484.49 L720.98 483.97 L722.39 483.47 L723.81 482.97 L725.23 482.49 L726.65 482.02 L728.08 481.56 L729.52 481.12 L730.95 480.70 L732.40 480.29 L733.85 479.91 L735.31 479.56 L736.77 479.25 L738.25 478.98 L739.74 478.77 L741.23 478.61 L742.72 478.53 L744.22 478.52 L745.72 478.60 L747.21 478.77 L748.69 479.02 L750.15 479.37 L751.59 479.80 L752.99 480.32 L754.38 480.90 L755.72 481.56 L757.03 482.29 L758.31 483.08 L759.54 483.94 L760.72 484.86 L761.86 485.83 L762.95 486.86 L764.00 487.94 L765.00 489.05 L765.96 490.20 L766.89 491.38 L767.78 492.59 L768.64 493.82 L769.48 495.06 L770.29 496.32 L771.08 497.60 L771.86 498.88 L772.62 500.18 L773.36 501.48 L774.09 502.79 L774.79 504.11 L775.49 505.45 L776.16 506.78 L776.82 508.13 L777.46 509.49 L778.09 510.85 L778.70 512.22 L779.30 513.59 L779.88 514.98 L780.45 516.36 L781.01 517.76 L781.55 519.16 L782.07 520.56 L782.59 521.97 L783.09 523.39 L783.58 524.80 L784.05 526.23 L784.52 527.65 L784.97 529.08 L785.41 530.51 L785.85 531.95 L786.27 533.39 L786.68 534.83 L787.09 536.28 L787.48 537.72 L787.87 539.17 L788.25 540.62 L788.62 542.08 L788.99 543.53 L789.35 544.99 L789.70 546.45 L790.05 547.91 L790.39 549.37 L790.73 550.83 L791.06 552.29 L791.39 553.75 L791.72 555.22 L792.04 556.68 L792.36 558.15 L792.68 559.61 L792.99 561.08 L793.31 562.55 L793.62 564.01 L793.92 565.48 L794.23 566.95 L794.53 568.42 L794.83 569.89 L795.13 571.36 L795.42 572.83 L795.72 574.30 L796.01 575.77 L796.29 577.25 L796.58 578.72 L796.86 580.19 L797.14 581.66 L797.42 583.14 L797.70 584.61 L797.97 586.09 L798.24 587.56 L798.51 589.04 L798.78 590.51 L799.05 591.99 L799.31 593.47 L799.57 594.95 L799.83 596.42 L800.08 597.90 L800.34 599.38 L800.59 600.86 L800.84 602.34 L801.09 603.82 L801.33 605.30 L801.58 606.78 L801.82 608.26 L802.06 609.74 L802.30 611.22 L802.53 612.70 L802.77 614.18 L803.00 615.66 L803.23 617.15 L803.46 618.63 L803.68 620.11 L803.91 621.59 L804.13 623.08 L804.35 624.56 L804.57 626.04 L804.79 627.53 L805.00 629.01 L805.22 630.50 L805.43 631.98 L805.64 633.47 L805.85 634.95 L806.06 636.44 L806.26 637.92 L806.46 639.41 L806.67 640.90 L806.87 642.38 L807.07 643.87 L807.27 645.36 L807.46 646.84 L807.66 648.33 L807.85 649.82 L808.04 651.31 L808.23 652.79 L808.42 654.28 L808.61 655.77 L808.79 657.26 L808.98 658.75 L809.16 660.24 L809.34 661.73 L809.52 663.21 L809.70 664.70 L809.88 666.19 L810.06 667.68 L810.23 669.17 L810.41 670.66 L810.58 672.15 L810.75 673.64 L810.93 675.13 L811.09 676.62 L811.26 678.11 L811.43 679.60 L811.60 681.10 L811.76 682.59 L811.93 684.08 L812.09 685.57 L812.25 687.06 L812.41 688.55 L812.57 690.04 L812.73 691.53 L812.89 693.02 L813.05 694.52 L813.21 696.01 L813.36 697.50 L813.52 698.99 L813.67 700.48 L813.83 701.98 L813.98 703.47 L814.13 704.96 L814.28 706.45 L814.43 707.95 L814.58 709.44 L814.73 710.93 L814.88 712.42 L815.02 713.92 L815.17 715.41 L815.32 716.90 L815.46 718.40 L815.61 719.89 L815.75 721.38 L815.90 722.87 L816.04 724.37 L816.18 725.86 L816.32 727.35 L816.47 728.85 L816.61 730.34 L816.75 731.83 L816.89 733.33 L817.03 734.82 L817.17 736.31 L817.31 737.81 L817.45 739.30 L817.58 740.79 L817.72 742.29 L817.86 743.78 L818.00 745.28 L818.14 746.77 L818.27 748.26 L818.41 749.76 L818.55 751.25 L818.68 752.74 L818.82 754.24 L818.95 755.73 L819.09 757.23 L819.23 758.72 L819.36 760.21 L819.50 761.71 L819.63 763.20 L819.77 764.70 L819.91 766.19 L820.04 767.68 L820.18 769.18 L820.31 770.67 L820.45 772.16 L820.58 773.66 L820.72 775.15 L820.86 776.65 L820.99 778.14 L821.13 779.63 L821.27 781.13 L821.40 782.62 L821.54 784.11 L821.68 785.61 L821.81 787.10 L821.95 788.60 L822.09 790.09 L822.23 791.58 L822.37 793.08 L822.51 794.57 L822.64 796.06 L822.78 797.56 L822.92 799.05 L823.06 800.54 L823.21 802.04 L823.35 803.53 L823.49 805.02 L823.63 806.52 L823.77 808.01 L823.92 809.50 L824.06 811.00 L824.21 812.49 L824.35 813.98 L824.50 815.48 L824.64 816.97 L824.79 818.46 L824.94 819.95 L825.08 821.45 L825.23 822.94 L825.38 824.43 L825.53 825.92 L825.68 827.42 L825.84 828.91 L825.99 830.40 L826.14 831.89 L826.30 833.39 L826.45 834.88 L826.61 836.37 L826.76 837.86 L826.92 839.35 L827.08 840.84 L827.24 842.34 L827.40 843.83 L827.56 845.32 L827.72 846.81 L827.89 848.30 L828.05 849.79 L828.22 851.28 L828.39 852.77 L828.55 854.26 L828.72 855.75 L828.89 857.24 L829.06 858.73 L829.24 860.22 L829.41 861.71 L829.58 863.20 L829.76 864.69 L829.94 866.18 L830.12 867.67 L830.30 869.16 L830.48 870.65 L830.66 872.14 L830.84 873.56 L831.04 874.50" fill="none" stroke="#bf00bf" stroke-width="8.5" stroke-dasharray="8.4 7.65" stroke-dashoffset="9.67" stroke-linejoin="miter"/>
<ellipse cx="731.6" cy="333.5" rx="11.9" ry="12.8" fill="#0000ff" stroke="#000" stroke-width="2.5"/>
<ellipse cx="722.5" cy="445.0" rx="11.9" ry="12.8" fill="#ff0000" stroke="#000" stroke-width="2.5"/>
<ellipse cx="390.2" cy="622.2" rx="11.9" ry="12.8" fill="#ffff00" stroke="#000" stroke-width="2.5"/>
<ellipse cx="746.0" cy="480.2" rx="11.9" ry="12.8" fill="#00ffff" stroke="#000" stroke-width="2.5"/>
<line x1="626.10" y1="270.60" x2="695.78" y2="311.68" stroke="#0000ff" stroke-width="2.6"/><path d="M719.90 325.90 L676.28 318.18 L694.06 310.66 L692.02 291.47 Z" fill="#0000ff"/>
<line x1="511.40" y1="420.90" x2="667.86" y2="442.48" stroke="#ff0000" stroke-width="2.6"/><path d="M695.60 446.30 L652.37 455.99 L665.88 442.20 L656.61 425.28 Z" fill="#ff0000"/>
<line x1="240.80" y1="538.20" x2="348.35" y2="606.32" stroke="#bf00bf" stroke-width="2.6"/><path d="M372.00 621.30 L328.65 612.19 L346.66 605.25 L345.23 586.00 Z" fill="#bf00bf"/>
<line x1="640.50" y1="678.20" x2="723.08" y2="532.65" stroke="#bf00bf" stroke-width="2.6"/><path d="M736.90 508.30 L729.90 552.04 L722.10 534.39 L702.94 536.75 Z" fill="#bf00bf"/>
<text transform="translate(405.10 248.10) scale(1 1.035)" font-size="40.8" fill="#d95319">MPP (19.09V, 20W)</text>
<text transform="translate(149.30 402.40) scale(1 1.035)" font-size="40.8" fill="#008000">MPP (18.67V, 15.76W)</text>
<text transform="translate(120.70 516.90) scale(1 1.035)" font-size="40.8" fill="#bf00bf">LMPP (8.87V,9.17W)</text>
<text transform="translate(376.20 738.30) scale(1 1.035)" font-size="40.8" fill="#bf00bf">GMPP (19.44V, 14.65W)</text>
<rect x="41.8" y="1.2" width="966.7" height="170.6" fill="#fff" stroke="#262626" stroke-width="2.4"/>
<line x1="74.4" y1="33.5" x2="195.5" y2="33.5" stroke="#ff0000" stroke-width="5.2" stroke-dasharray="16.4 15.6"/>
<line x1="74.4" y1="87" x2="195.5" y2="87" stroke="#008000" stroke-width="4.7"/>
<line x1="74.1" y1="140.5" x2="195.8" y2="140.5" stroke="#bf00bf" stroke-width="8.9" stroke-dasharray="8.9 7.2"/>
<text x="203.6" y="51.8" font-size="34.5" fill="#000">2S-2P @1000W/m<tspan dy="-16" font-size="28">2</tspan><tspan dy="16" dx="1.2">: Case-I</tspan></text>
<text x="203.6" y="105.1" font-size="34.5" fill="#000">2S-2P @1000W/m<tspan dy="-16" font-size="28">2</tspan><tspan dy="16" dx="1.2">, 600W/m</tspan><tspan dy="-16" font-size="28">2</tspan><tspan dy="16" dx="1.2">: Case-II</tspan></text>
<text x="203.6" y="158.4" font-size="34.5" fill="#000">2S-2P @1000W/m<tspan dy="-16" font-size="28">2</tspan><tspan dy="16" dx="1.2">, 800W/m</tspan><tspan dy="-16" font-size="28">2</tspan><tspan dy="16" dx="1.2">, 600W/m</tspan><tspan dy="-16" font-size="28">2</tspan><tspan dy="16" dx="1.2">: Case-III</tspan></text>
</svg>
</body></html>
